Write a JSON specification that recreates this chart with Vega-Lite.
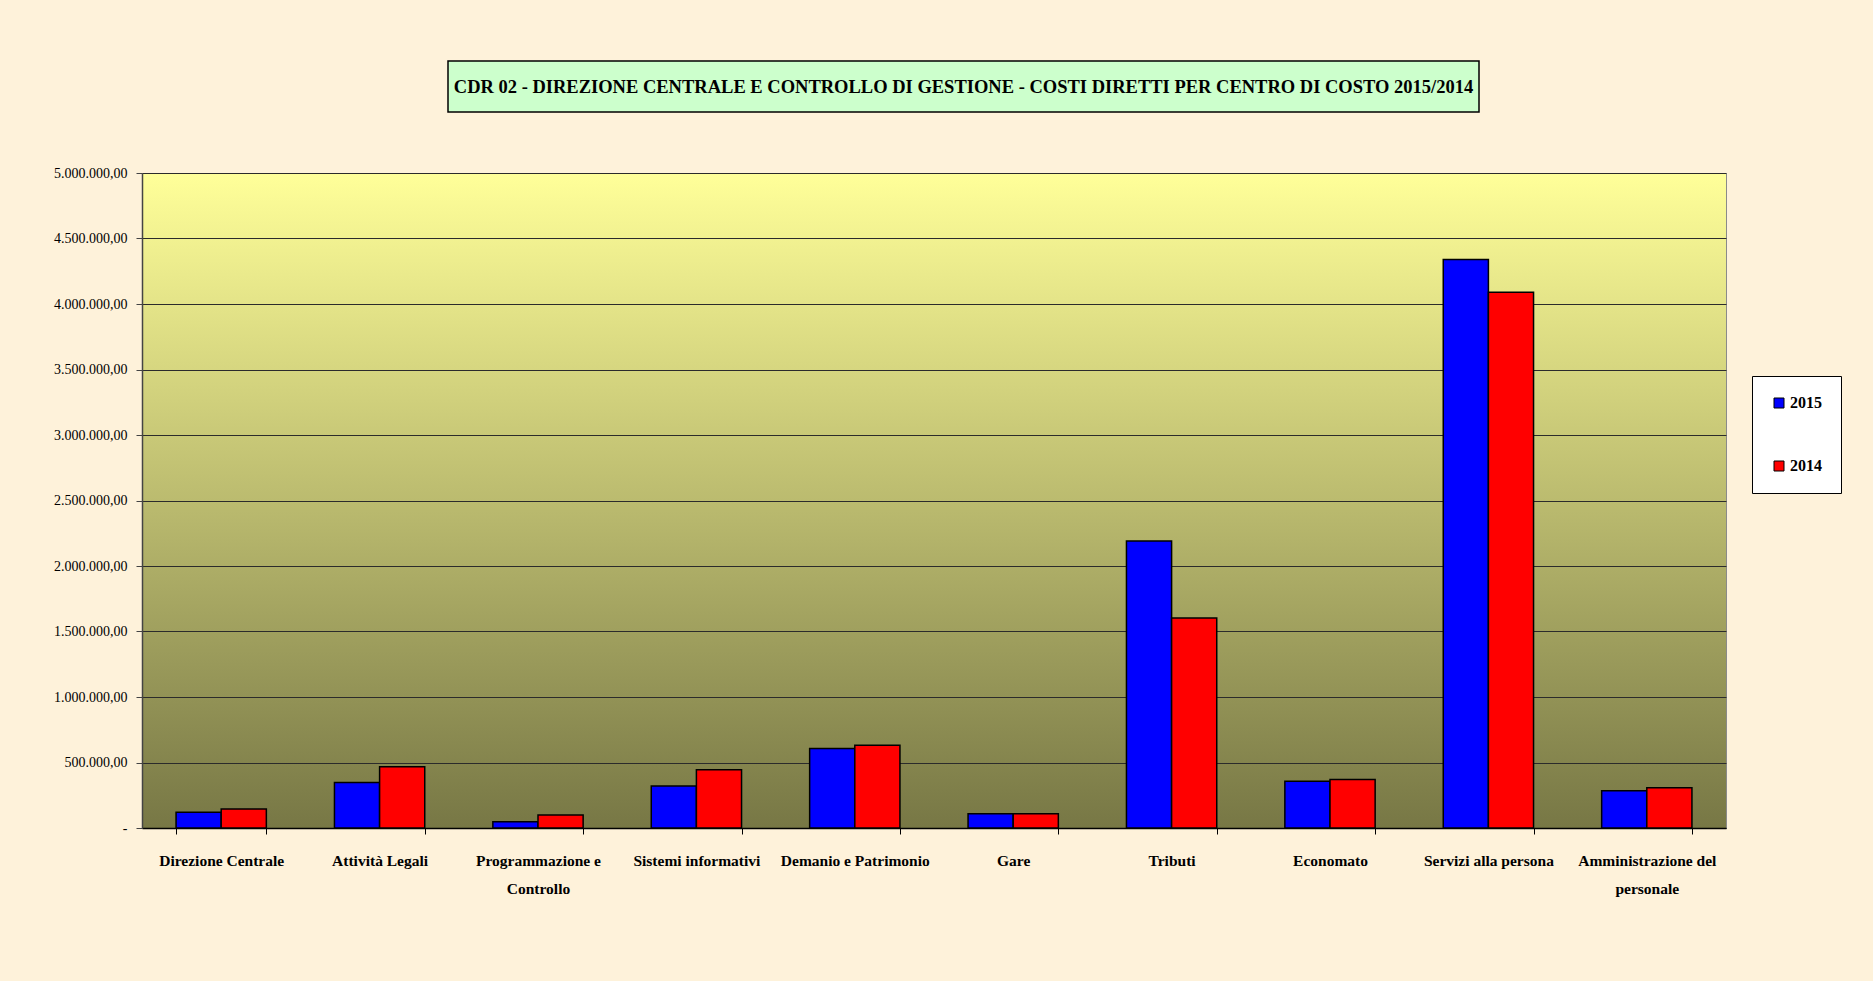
{
  "$schema": "https://vega.github.io/schema/vega-lite/v6.json",
  "background": "#FEF2DA",
  "padding": {"left": 53, "top": 60, "right": 31, "bottom": 84},
  "bounds": "flush",
  "spacing": 112,
  "config": {
    "view": {"stroke": null, "fill": null},
    "locale": {"number": {"decimal": ",", "thousands": ".", "grouping": [3], "currency": ["", " €"]}},
    "font": "Liberation Serif"
  },
  "vconcat": [
    {
      "bounds": "flush",
      "spacing": 0,
      "hconcat": [
        {
          "width": 306,
          "height": 51,
          "data": {"values": [{"t": ""}]},
          "view": {"stroke": null, "fill": null},
          "mark": {"type": "text"},
          "encoding": {"text": {"field": "t"}}
        },
        {
          "width": 1031,
          "height": 51,
          "data": {"values": [{"t": "CDR 02 - DIREZIONE CENTRALE E CONTROLLO DI GESTIONE - COSTI DIRETTI PER CENTRO DI COSTO 2015/2014"}]},
          "view": {"fill": "#CCFFCC", "stroke": "#000000", "strokeWidth": 1.5},
          "mark": {
            "type": "text",
            "font": "Liberation Serif",
            "fontWeight": "bold",
            "fontSize": 18.5,
            "color": "#000000",
            "align": "center",
            "baseline": "middle"
          },
          "encoding": {"text": {"field": "t"}}
        }
      ]
    },
    {
      "width": 1584,
      "height": 655,
      "view": {
        "fill": {
          "gradient": "linear",
          "x1": 0, "y1": 0, "x2": 0, "y2": 1,
          "stops": [
            {"offset": 0, "color": "#FFFF99"},
            {"offset": 1, "color": "#777745"}
          ]
        },
        "stroke": "#8a8a8a",
        "strokeWidth": 1
      },
      "data": {
        "values": [
          {"centro": "Direzione Centrale", "anno": "2015", "costo": 121000},
          {"centro": "Direzione Centrale", "anno": "2014", "costo": 145000},
          {"centro": "Attività Legali", "anno": "2015", "costo": 347000},
          {"centro": "Attività Legali", "anno": "2014", "costo": 468000},
          {"centro": "Programmazione e Controllo", "anno": "2015", "costo": 48000},
          {"centro": "Programmazione e Controllo", "anno": "2014", "costo": 100000},
          {"centro": "Sistemi informativi", "anno": "2015", "costo": 320000},
          {"centro": "Sistemi informativi", "anno": "2014", "costo": 444000},
          {"centro": "Demanio e Patrimonio", "anno": "2015", "costo": 607000},
          {"centro": "Demanio e Patrimonio", "anno": "2014", "costo": 631000},
          {"centro": "Gare", "anno": "2015", "costo": 109000},
          {"centro": "Gare", "anno": "2014", "costo": 109000},
          {"centro": "Tributi", "anno": "2015", "costo": 2190000},
          {"centro": "Tributi", "anno": "2014", "costo": 1603000},
          {"centro": "Economato", "anno": "2015", "costo": 356000},
          {"centro": "Economato", "anno": "2014", "costo": 371000},
          {"centro": "Servizi alla persona", "anno": "2015", "costo": 4340000},
          {"centro": "Servizi alla persona", "anno": "2014", "costo": 4090000},
          {"centro": "Amministrazione del personale", "anno": "2015", "costo": 284000},
          {"centro": "Amministrazione del personale", "anno": "2014", "costo": 308000}
        ]
      },
      "mark": {"type": "bar", "stroke": "#000000", "strokeWidth": 1.5},
      "encoding": {
        "x": {
          "field": "centro",
          "type": "nominal",
          "sort": null,
          "title": null,
          "scale": {"paddingInner": 0.43, "paddingOuter": 0.215},
          "axis": {
            "labelAngle": 0,
            "labelFont": "Liberation Serif",
            "labelFontWeight": "bold",
            "labelFontSize": 15.5,
            "labelColor": "#000000",
            "labelPadding": 19,
            "labelLineHeight": 28,
            "labelBaseline": "top",
            "labelLimit": 300,
            "labelExpr": "datum.value == 'Programmazione e Controllo' ? ['Programmazione e', 'Controllo'] : datum.value == 'Amministrazione del personale' ? ['Amministrazione del', 'personale'] : datum.label",
            "tickBand": "extent",
            "tickSize": 6,
            "tickColor": "#000000",
            "tickWidth": 1,
            "domainColor": "#000000",
            "domainWidth": 1.5,
            "grid": false
          }
        },
        "xOffset": {"field": "anno", "sort": ["2015", "2014"], "scale": {"paddingInner": 0, "paddingOuter": 0}},
        "y": {
          "field": "costo",
          "type": "quantitative",
          "title": null,
          "scale": {"domain": [0, 5000000], "nice": false},
          "axis": {
            "tickCount": 10,
            "format": ",.2f",
            "labelExpr": "datum.value == 0 ? '-\u00a0\u00a0\u00a0\u00a0\u00a0' : datum.label",
            "labelFont": "Liberation Serif",
            "labelFontSize": 14,
            "labelColor": "#000000",
            "labelPadding": 9,
            "tickSize": 6,
            "tickColor": "#444444",
            "domainColor": "#444444",
            "domainWidth": 1.5,
            "grid": true,
            "gridColor": "#2b2b2b",
            "gridWidth": 1
          }
        },
        "color": {
          "field": "anno",
          "type": "nominal",
          "scale": {"domain": ["2015", "2014"], "range": ["#0000FF", "#FF0000"]},
          "legend": {
            "title": null,
            "orient": "none",
            "legendX": 1610,
            "legendY": 315,
            "symbolType": "square",
            "symbolSize": 100,
            "symbolStrokeColor": "#000000",
            "symbolStrokeWidth": 1,
            "labelFont": "Liberation Serif",
            "labelFontWeight": "bold",
            "labelFontSize": 16,
            "labelColor": "#000000",
            "labelOffset": 3,
            "padding": 19,
            "rowPadding": 47,
            "fillColor": "#FFFFFF",
            "strokeColor": "#000000"
          }
        }
      }
    }
  ]
}
